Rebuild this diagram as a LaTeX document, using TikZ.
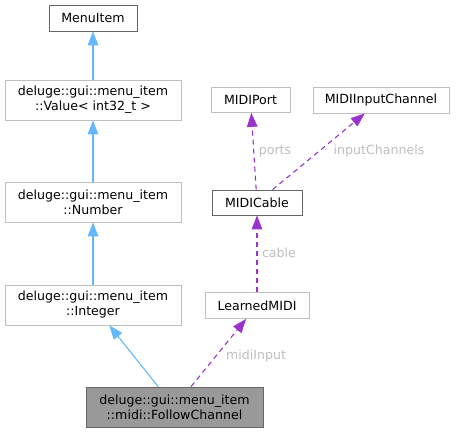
\documentclass[tikz,border=0pt]{standalone}
\usepackage{fontspec}
\setmainfont{DejaVu Sans}
\usepackage{tikz}
\usetikzlibrary{arrows.meta}
\definecolor{boxdark}{HTML}{666666}
\definecolor{boxlight}{HTML}{BFBFBF}
\definecolor{boxfill}{HTML}{999999}
\definecolor{inherit}{HTML}{63B8FF}
\definecolor{usage}{HTML}{9A32CD}
\definecolor{lblgray}{HTML}{BEBEBE}
\tikzset{
  cls/.style={draw=boxlight, line width=0.8pt, align=center, inner sep=0pt,
    font=\fontsize{12.6}{15}\selectfont},
  inh/.style={draw=inherit, line width=1.1pt, -{Triangle[length=14pt,width=10.5pt]}},
  use/.style={draw=usage, line width=1.1pt, dash pattern=on 5pt off 4pt,
    -{Triangle[length=14pt,width=10.5pt]}},
  lbl/.style={text=lblgray, font=\fontsize{12.6}{15}\selectfont}
}
\begin{document}
\begin{tikzpicture}[x=1pt, y=-1pt]
\useasboundingbox (0,0) rectangle (459,433);
\node[cls, draw=boxdark, minimum width=88pt, minimum height=26pt] (menuitem) at (93, 18) {MenuItem};
\node[cls, minimum width=176pt, minimum height=40pt] (value) at (93, 100) {deluge::gui::menu\_item\\::Value< int32\_t >};
\node[cls, minimum width=176pt, minimum height=40pt] (number) at (93, 202) {deluge::gui::menu\_item\\::Number};
\node[cls, minimum width=176pt, minimum height=40pt] (integer) at (93, 305) {deluge::gui::menu\_item\\::Integer};
\node[cls, draw=boxdark, fill=boxfill, minimum width=177pt, minimum height=40pt] (follow) at (174.5, 407) {deluge::gui::menu\_item\\::midi::FollowChannel};
\node[cls, minimum width=104pt, minimum height=26pt] (learned) at (257, 305.5) {LearnedMIDI};
\node[cls, draw=boxdark, minimum width=90pt, minimum height=25pt] (cable) at (257, 202.5) {MIDICable};
\node[cls, minimum width=79pt, minimum height=25pt] (port) at (250.5, 100) {MIDIPort};
\node[cls, minimum width=136pt, minimum height=26pt] (inchan) at (381, 100) {MIDIInputChannel};
\draw[inh] (value) -- (menuitem);
\draw[inh] (number) -- (value);
\draw[inh] (integer) -- (number);
\draw[inh] (follow) -- (integer);
\draw[use] (follow) -- (learned);
\draw[use] (learned) -- (cable);
\draw[use] (cable) -- (port);
\draw[use] (cable) -- (inchan);
\node[lbl] (lmidi) at (256, 356) {midiInput};
\node[lbl] (lcable) at (279, 253) {cable};
\node[lbl] (lports) at (275, 151) {ports};
\node[lbl] (lchan) at (379, 151) {inputChannels};
\end{tikzpicture}
\end{document}
